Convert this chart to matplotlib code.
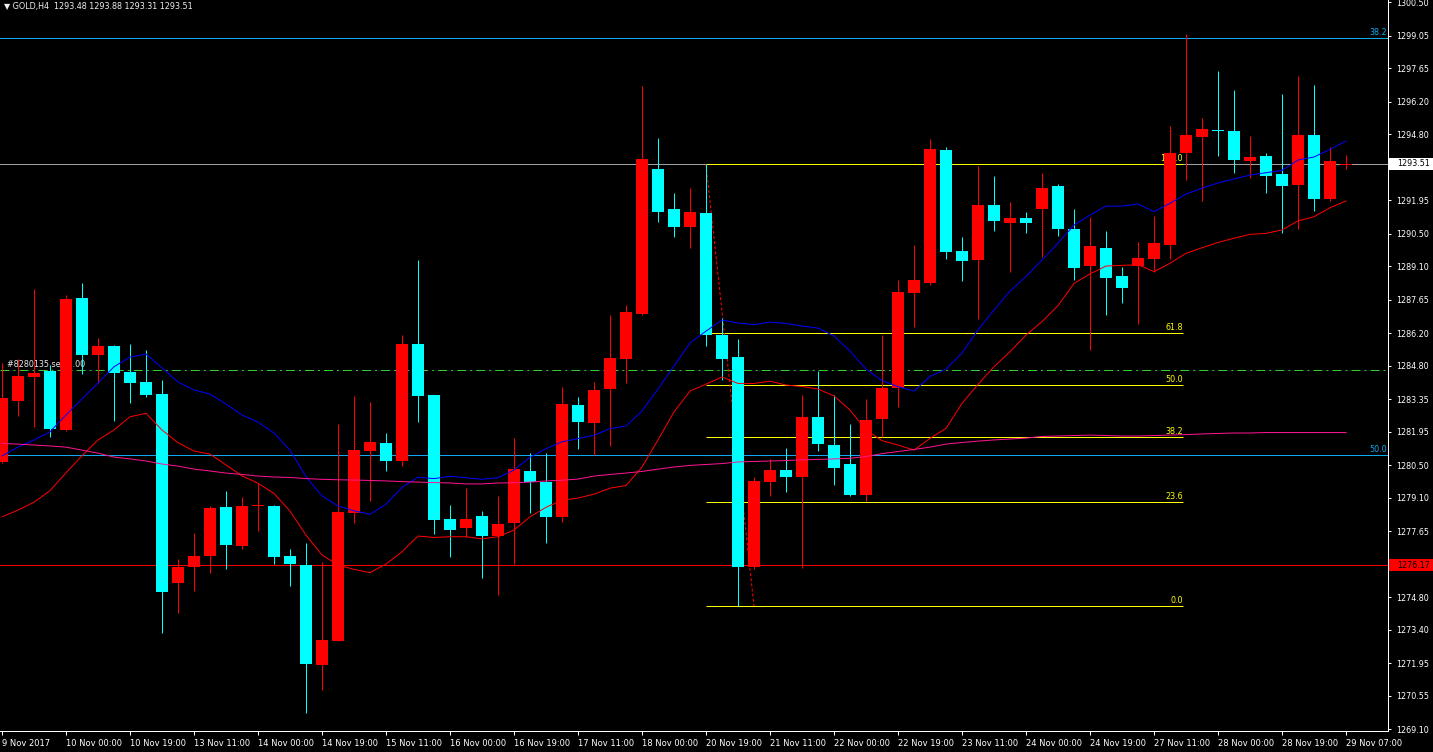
import matplotlib.pyplot as plt
import matplotlib.transforms as mtransforms
from matplotlib.patches import Rectangle
import numpy as np

plt.rcParams['lines.scale_dashes'] = False

# GOLD H4 candles, oldest first
opens = [1280.65, 1283.28, 1284.32, 1284.58, 1282.02, 1287.72, 1285.26, 1285.65, 1284.52, 1284.09,
         1283.57, 1275.42, 1276.12, 1276.59, 1278.69, 1277.02, 1278.73, 1278.74, 1276.58, 1276.20,
         1271.87, 1272.92, 1278.45, 1281.11, 1281.46, 1280.69, 1285.73, 1283.53, 1278.17, 1277.80,
         1278.30, 1277.44, 1278.02, 1280.25, 1279.79, 1278.27, 1283.12, 1282.32, 1283.78, 1285.07,
         1287.05, 1293.29, 1291.55, 1290.78, 1291.39, 1286.14, 1285.16, 1276.09, 1279.77, 1280.28,
         1280.01, 1282.60, 1281.39, 1280.53, 1279.22, 1282.51, 1283.84, 1287.94, 1288.37, 1294.11,
         1289.75, 1289.37, 1291.74, 1290.97, 1291.17, 1291.56, 1292.56, 1290.70, 1289.11, 1289.88,
         1288.67, 1289.11, 1289.40, 1290.01, 1293.98, 1294.67, 1294.98, 1294.93, 1293.64, 1293.85,
         1293.08, 1292.61, 1294.76, 1292.01, 1293.48]
highs = [1284.91, 1285.07, 1288.11, 1284.83, 1287.85, 1288.38, 1286.00, 1285.70, 1285.73, 1285.47,
         1284.18, 1276.45, 1277.56, 1278.74, 1279.40, 1279.14, 1279.72, 1278.80, 1276.88, 1277.13,
         1276.32, 1282.28, 1283.48, 1283.23, 1281.89, 1286.12, 1289.36, 1283.55, 1278.78, 1279.51,
         1278.52, 1279.17, 1281.67, 1281.03, 1281.03, 1283.89, 1283.46, 1284.10, 1286.98, 1287.41,
         1296.88, 1294.63, 1292.25, 1292.46, 1293.49, 1286.86, 1285.94, 1280.01, 1280.75, 1281.26,
         1283.51, 1284.58, 1283.55, 1282.27, 1283.37, 1286.12, 1288.50, 1290.01, 1294.59, 1294.23,
         1290.35, 1293.43, 1292.99, 1291.87, 1291.43, 1293.12, 1292.64, 1291.56, 1291.22, 1290.61,
         1289.06, 1290.14, 1291.26, 1295.15, 1299.12, 1295.49, 1297.54, 1296.72, 1294.72, 1293.98,
         1296.53, 1297.31, 1296.92, 1294.24, 1293.88]
lows = [1280.60, 1282.64, 1282.16, 1281.73, 1281.98, 1284.44, 1284.06, 1282.42, 1283.20, 1283.43,
        1273.24, 1274.10, 1275.08, 1275.85, 1276.00, 1276.87, 1277.67, 1276.23, 1275.29, 1269.81,
        1270.79, 1272.90, 1277.99, 1278.96, 1280.26, 1280.48, 1282.38, 1277.53, 1276.55, 1277.38,
        1275.61, 1274.89, 1276.23, 1278.42, 1277.15, 1278.06, 1281.20, 1280.93, 1281.35, 1284.03,
        1286.98, 1291.00, 1290.35, 1289.86, 1285.64, 1284.18, 1274.42, 1276.00, 1279.19, 1279.34,
        1276.04, 1281.11, 1279.63, 1279.15, 1278.96, 1281.73, 1283.02, 1286.48, 1288.30, 1289.42,
        1288.47, 1286.83, 1290.63, 1288.86, 1290.54, 1289.49, 1290.40, 1288.50, 1285.47, 1287.00,
        1287.52, 1286.60, 1288.86, 1289.40, 1292.82, 1291.92, 1293.85, 1293.13, 1292.89, 1292.27,
        1290.54, 1290.69, 1291.49, 1291.92, 1293.31]
closes = [1283.41, 1284.35, 1284.48, 1282.06, 1287.68, 1285.26, 1285.65, 1284.49, 1284.06, 1283.54,
          1275.03, 1276.12, 1276.58, 1278.65, 1277.06, 1278.74, 1278.75, 1276.55, 1276.23, 1271.91,
          1272.95, 1278.48, 1281.15, 1281.50, 1280.69, 1285.73, 1283.50, 1278.13, 1277.70, 1278.17,
          1277.45, 1277.96, 1280.33, 1279.76, 1278.27, 1283.14, 1282.36, 1283.73, 1285.11, 1287.10,
          1293.72, 1291.43, 1290.78, 1291.45, 1286.14, 1285.10, 1276.09, 1279.82, 1280.28, 1280.01,
          1282.60, 1281.41, 1280.36, 1279.20, 1282.45, 1283.83, 1287.98, 1288.50, 1294.15, 1289.72,
          1289.33, 1291.74, 1291.06, 1291.17, 1290.97, 1292.47, 1290.71, 1289.03, 1289.97, 1288.60,
          1288.16, 1289.45, 1290.09, 1293.98, 1294.76, 1295.02, 1294.93, 1293.68, 1293.81, 1293.00,
          1292.57, 1294.76, 1292.01, 1293.64, 1293.51]

# moving averages as drawn on the chart
ma_fast = [1280.90, 1281.28, 1281.59, 1281.94, 1282.67, 1283.36, 1284.05, 1284.75, 1285.17, 1285.30,
           1284.70, 1284.09, 1283.75, 1283.57, 1283.14, 1282.67, 1282.36, 1281.89, 1281.15, 1280.00,
           1279.17, 1278.74, 1278.53, 1278.38, 1278.82, 1279.54, 1279.98, 1279.92, 1280.02, 1279.96,
           1279.89, 1279.96, 1280.29, 1280.84, 1281.21, 1281.51, 1281.65, 1281.79, 1282.08, 1282.19,
           1282.84, 1283.79, 1284.78, 1285.78, 1286.29, 1286.77, 1286.64, 1286.57, 1286.68, 1286.62,
           1286.51, 1286.42, 1286.08, 1285.43, 1284.65, 1284.15, 1283.89, 1283.70, 1284.33, 1284.65,
           1285.34, 1286.34, 1287.20, 1288.02, 1288.65, 1289.36, 1290.09, 1290.87, 1291.30, 1291.69,
           1291.69, 1291.78, 1291.45, 1291.81, 1292.21, 1292.46, 1292.69, 1292.86, 1293.03, 1293.13,
           1293.23, 1293.68, 1293.81, 1294.14, 1294.50]
ma_mid = [1278.27, 1278.56, 1278.90, 1279.40, 1280.17, 1280.91, 1281.59, 1282.02, 1282.59, 1282.74,
          1282.02, 1281.47, 1281.11, 1280.98, 1280.51, 1280.04, 1279.72, 1279.28, 1278.52, 1277.48,
          1276.62, 1276.19, 1276.00, 1275.86, 1276.23, 1276.76, 1277.44, 1277.38, 1277.41, 1277.41,
          1277.32, 1277.41, 1277.70, 1278.27, 1278.68, 1278.99, 1279.08, 1279.25, 1279.51, 1279.62,
          1280.42, 1281.59, 1282.80, 1283.70, 1284.00, 1284.31, 1284.03, 1284.03, 1284.13, 1283.96,
          1283.90, 1283.79, 1283.49, 1282.88, 1282.02, 1281.56, 1281.37, 1281.15, 1281.66, 1282.09,
          1283.17, 1283.99, 1284.75, 1285.40, 1286.12, 1286.70, 1287.39, 1288.35, 1288.76, 1289.10,
          1289.13, 1289.16, 1288.86, 1289.22, 1289.65, 1289.89, 1290.12, 1290.30, 1290.47, 1290.51,
          1290.66, 1291.05, 1291.23, 1291.62, 1291.91]
ma_slow = [1281.44, 1281.41, 1281.37, 1281.33, 1281.28, 1281.15, 1281.02, 1280.85, 1280.77, 1280.68,
           1280.55, 1280.46, 1280.33, 1280.25, 1280.16, 1280.10, 1280.03, 1279.99, 1279.97, 1279.92,
           1279.89, 1279.87, 1279.86, 1279.84, 1279.82, 1279.79, 1279.77, 1279.75, 1279.73, 1279.69,
           1279.69, 1279.73, 1279.74, 1279.77, 1279.82, 1279.85, 1279.90, 1280.03, 1280.10, 1280.16,
           1280.23, 1280.33, 1280.42, 1280.49, 1280.53, 1280.57, 1280.64, 1280.66, 1280.68, 1280.70,
           1280.73, 1280.75, 1280.77, 1280.80, 1280.87, 1281.00, 1281.09, 1281.18, 1281.28, 1281.41,
           1281.48, 1281.54, 1281.59, 1281.63, 1281.67, 1281.74, 1281.76, 1281.78, 1281.80, 1281.78,
           1281.76, 1281.76, 1281.78, 1281.80, 1281.82, 1281.85, 1281.87, 1281.89, 1281.89, 1281.91,
           1281.91, 1281.91, 1281.91, 1281.91, 1281.91]

time_labels = ['9 Nov 2017', '10 Nov 00:00', '10 Nov 19:00', '13 Nov 11:00', '14 Nov 00:00',
               '14 Nov 19:00', '15 Nov 11:00', '16 Nov 00:00', '16 Nov 19:00', '17 Nov 11:00',
               '18 Nov 00:00', '20 Nov 19:00', '21 Nov 11:00', '22 Nov 00:00', '22 Nov 19:00',
               '23 Nov 11:00', '24 Nov 00:00', '24 Nov 19:00', '27 Nov 11:00', '28 Nov 00:00',
               '28 Nov 19:00', '29 Nov 07:00']
price_ticks = [1300.50, 1299.05, 1297.65, 1296.20, 1294.80, 1293.35, 1291.95, 1290.50, 1289.10,
               1287.65, 1286.20, 1284.80, 1283.35, 1281.95, 1280.50, 1279.10, 1277.65, 1276.20,
               1274.80, 1273.40, 1271.95, 1270.55, 1269.10]

# chart objects
bid = 1293.51
stop_line = 1276.17
order_price = 1284.61
order_text = '#8280135 sell 1.00'
fib_prices = [1274.42, 1278.93, 1281.70, 1283.96, 1286.21, 1293.49]
fib_labels = ['0.0', '23.6', '38.2', '50.0', '61.8', '100.0']
big_fib_prices = [1298.95, 1280.94]
big_fib_labels = ['38.2', '50.0']
title = '\u25bc GOLD,H4  1293.48 1293.88 1293.31 1293.51'

px = 0.72  # one screen pixel in points
fs = 5.8

o = np.array(opens)
c = np.array(closes)
bars = np.arange(len(opens))

fig = plt.figure(figsize=(14.33, 7.52), dpi=100, facecolor='black')
ax = fig.add_axes([0, 21 / 752, 1388 / 1433, 731 / 752], facecolor='black')

# objects behind the candles
ax.axhline(bid, color='#A0A0A0', lw=px, zorder=1)
ax.axhline(stop_line, color='#FF0000', lw=px, zorder=1)
ax.axhline(order_price, color='#32CD32', lw=px, dashes=(6.5, 2.9, 1.4, 2.9), zorder=1)
ax.text(0.31, order_price + 0.05, order_text, color='#E8E8E8', fontsize=fs, ha='left', va='bottom', zorder=1.5)
for p, lab in zip(big_fib_prices, big_fib_labels):
    ax.axhline(p, color='#10A8F0', lw=px, zorder=1)
    ax.text(86.55, p + 0.04, lab, color='#10A8F0', fontsize=fs, ha='right', va='bottom', zorder=1.5)
ax.hlines(fib_prices, 44, 73.8, color='#FFFF00', lw=px, zorder=1.2)
for p, lab in zip(fib_prices, fib_labels):
    ax.text(73.8, p + 0.04, lab, color='#FFFF00', fontsize=fs, ha='right', va='bottom', zorder=1.5)
ax.plot([44, 47], [fib_prices[-1], fib_prices[0]], color='#FF0000', lw=px, dashes=(2.2, 1.5), zorder=1.3)

# candles
col = np.where(c >= o, '#FF0000', '#00FFFF')
ax.vlines(bars, lows, highs, colors=col, lw=px, zorder=4)
body_lo = np.minimum(o, c)
body_h = np.maximum(np.abs(c - o), 0.045)
ax.bar(bars, body_h, bottom=body_lo, width=0.69, color=col, lw=0, zorder=5)

# indicators
ax.plot(bars, ma_fast, color='#0000FF', lw=px, zorder=6)
ax.plot(bars, ma_mid, color='#FF0000', lw=px, zorder=6)
ax.plot(bars, ma_slow, color='#FF1493', lw=px, zorder=6)

ax.set_xlim(-0.125, 86.625)
ax.set_ylim(1269.02, 1300.59)

# labels hidden under the price boxes stay blank
ax.yaxis.tick_right()
ax.set_yticks(price_ticks)
ax.set_yticklabels(['' if min(abs(v - bid), abs(v - stop_line)) < 0.3 else f'{v:.2f}'
                    for v in price_ticks])
ax.tick_params(axis='y', colors='white', labelsize=fs, length=2.2, width=px, pad=3.5)

ax.set_xticks(bars[::4])
ax.set_xticklabels(time_labels, ha='left')
ax.tick_params(axis='x', colors='white', labelsize=6.0, length=3, width=px, pad=2.5)

for s in ['left', 'top']:
    ax.spines[s].set_visible(False)
for s in ['right', 'bottom']:
    ax.spines[s].set_color('white')
    ax.spines[s].set_linewidth(px)

# price boxes on the scale
trans = mtransforms.blended_transform_factory(ax.transAxes, ax.transData)
for p, fc in [(bid, 'white'), (stop_line, '#FF0000')]:
    ax.add_patch(Rectangle((1.0005, p - 0.26), 45 / 1388, 0.52, transform=trans,
                           facecolor=fc, edgecolor='none', clip_on=False, zorder=10))
    ax.text(1 + 9 / 1388, p, f'{p:.2f}', transform=trans, color='black', fontsize=fs,
            ha='left', va='center', clip_on=False, zorder=11)

fig.text(4 / 1433, 1 - 7 / 752, title, color='#F0F0F0', fontsize=fs, ha='left', va='center')

fig.savefig('out.png', dpi=100, facecolor='black')
